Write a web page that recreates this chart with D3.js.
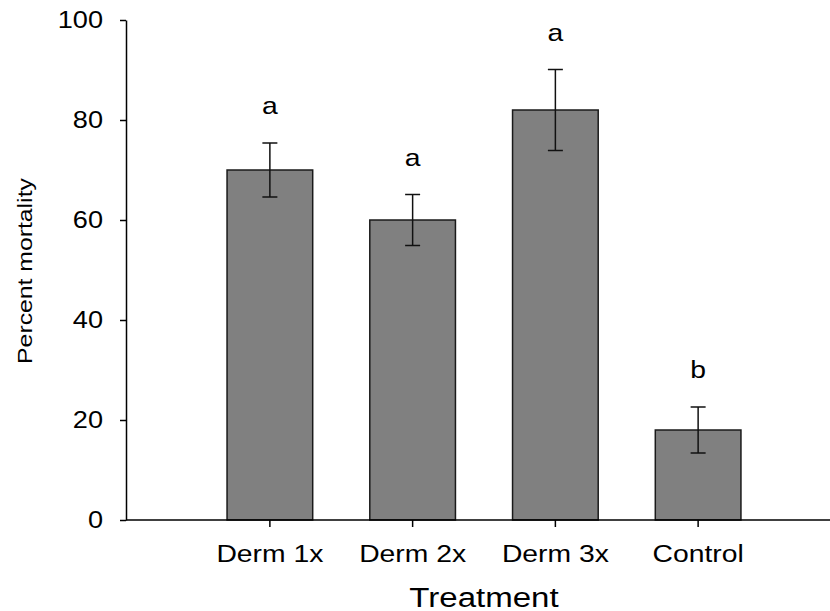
<!DOCTYPE html>
<html><head><meta charset="utf-8">
<script src="https://cdn.jsdelivr.net/npm/d3@7"></script>
<style>
html,body{margin:0;padding:0;background:#fff;}
svg{display:block;}
text{font-family:"Liberation Sans",Arial,sans-serif;fill:#000;}
</style></head>
<body><svg id="c" width="830" height="611"></svg>
<script>
const categories = ["Derm 1x", "Derm 2x", "Derm 3x", "Control"];
const means = [70, 60, 82, 18];
const lowerErr = [64.6, 54.9, 73.9, 13.4];
const upperErr = [75.4, 65.1, 90.1, 22.6];
const letters = ["a", "a", "a", "b"];
const yTicks = [0, 20, 40, 60, 80, 100];
const xTitle = "Treatment";
const yTitle = "Percent mortality";

const svg = d3.select("#c");
const axisX0 = 126, axisX1 = 830, plotTop = 20, plotBottom = 520;
const sx = 1.18;

const x = d3.scaleBand().domain(categories).range([198.5, 769.5]).paddingInner(0.4).paddingOuter(0.2);
const y = d3.scaleLinear().domain([0, 100]).range([plotBottom, plotTop]);

const data = categories.map((c, i) => ({c, m: means[i], lo: lowerErr[i], hi: upperErr[i], l: letters[i]}));

// bars
svg.append("g").selectAll("rect").data(data).join("rect")
  .attr("x", d => x(d.c)).attr("width", x.bandwidth())
  .attr("y", d => y(d.m)).attr("height", d => y(0) - y(d.m))
  .attr("fill", "#808080").attr("stroke", "#1a1a1a").attr("stroke-width", 1.5);

// error bars
const eb = svg.append("g").attr("stroke", "#111").attr("stroke-width", 1.5);
const cx = d => x(d.c) + x.bandwidth() / 2;
const cap = 7.5;
eb.selectAll("line.v").data(data).join("line").attr("class", "v")
  .attr("x1", cx).attr("x2", cx).attr("y1", d => y(d.lo)).attr("y2", d => y(d.hi));
eb.selectAll("line.t").data(data).join("line").attr("class", "t")
  .attr("x1", d => cx(d) - cap).attr("x2", d => cx(d) + cap).attr("y1", d => y(d.hi)).attr("y2", d => y(d.hi));
eb.selectAll("line.b").data(data).join("line").attr("class", "b")
  .attr("x1", d => cx(d) - cap).attr("x2", d => cx(d) + cap).attr("y1", d => y(d.lo)).attr("y2", d => y(d.lo));

// letters
svg.append("g").selectAll("text").data(data).join("text")
  .attr("transform", d => `translate(${cx(d)},${y(d.hi) - 29}) scale(${sx},1)`)
  .attr("text-anchor", "middle").attr("font-size", 24).text(d => d.l);

// y axis
const ya = svg.append("g").attr("transform", `translate(${axisX0},0)`)
  .call(d3.axisLeft(y).tickValues(yTicks).tickSize(6).tickSizeOuter(0).tickPadding(17));
ya.selectAll("path,line").attr("stroke", "#000").attr("stroke-width", 1.5);
ya.selectAll("text").attr("font-size", 23).attr("font-family", '"Liberation Sans",Arial,sans-serif')
  .attr("fill", "#000")
  .each(function(){ const t = d3.select(this); const xx = +t.attr("x"); t.attr("x", null).attr("transform", `translate(${xx},0) scale(${sx},1)`); });

// x axis
const xa = svg.append("g").attr("transform", `translate(0,${plotBottom})`)
  .call(d3.axisBottom(x).tickSize(7).tickSizeOuter(0).tickPadding(18));
xa.select(".domain").remove();
xa.append("line").attr("x1", axisX0).attr("x2", axisX1).attr("y1", 0).attr("y2", 0);
xa.selectAll("line").attr("stroke", "#000").attr("stroke-width", 1.5);
xa.selectAll("text").attr("font-size", 24).attr("font-family", '"Liberation Sans",Arial,sans-serif')
  .attr("fill", "#000")
  .each(function(){ const t = d3.select(this); const yy = +t.attr("y"); t.attr("y", null).attr("dy", "0.71em").attr("transform", `translate(0,${yy}) scale(${sx},1)`); });

// titles
svg.append("text").attr("text-anchor", "middle").attr("font-size", 28)
  .attr("transform", `translate(${(x.range()[0] + x.range()[1]) / 2},607) scale(${sx},1)`).text(xTitle);
svg.append("text").attr("text-anchor", "middle").attr("font-size", 21)
  .attr("transform", `translate(32,${(plotTop + plotBottom) / 2 + 1}) rotate(-90) scale(${sx},1)`).text(yTitle);
</script></body></html>
